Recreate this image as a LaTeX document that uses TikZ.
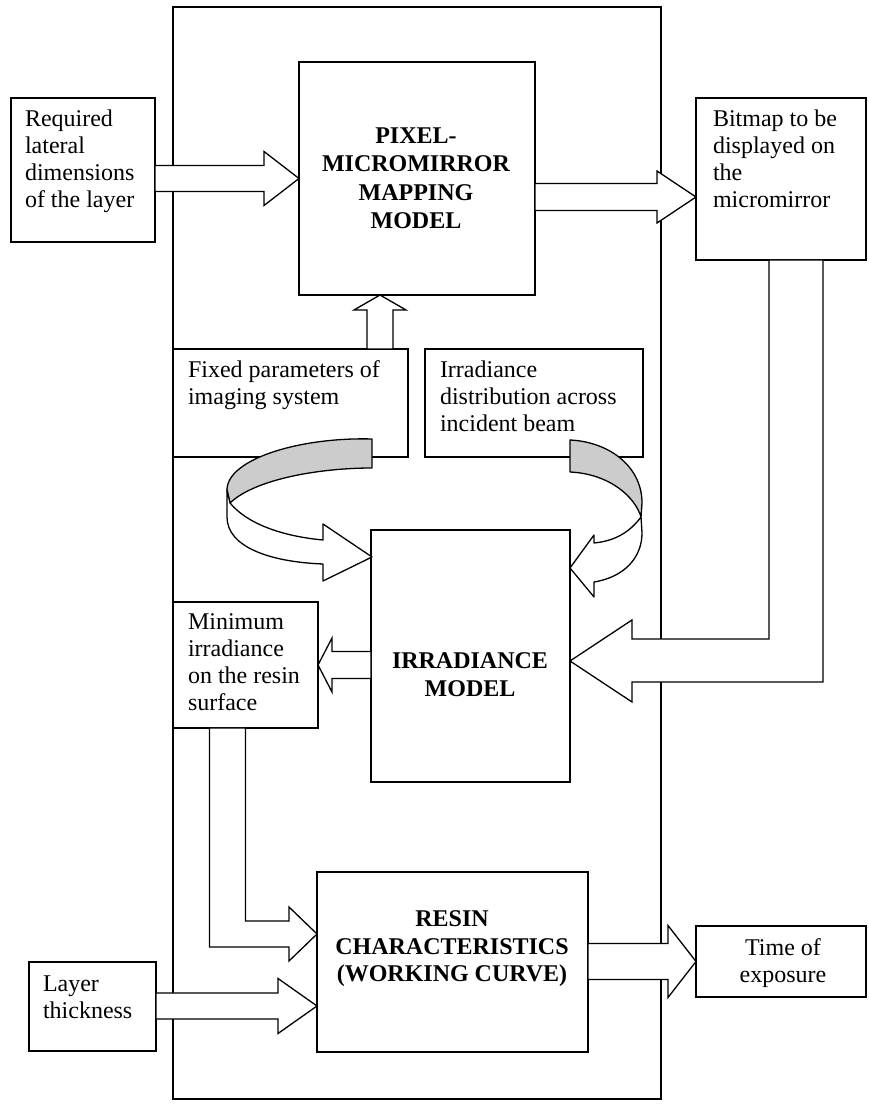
\documentclass[tikz,border=0pt]{standalone}
\usepackage{fontspec}
\setmainfont{Liberation Serif}
\usetikzlibrary{calc}

\tikzset{
  box/.style={draw=drawColor,line width=1.8pt,fill=fillColor,inner sep=0pt,outer sep=0pt,anchor=north west},
  blk/.style={draw=drawColor,line width=1.3pt,line join=miter,fill=fillColor},
  band/.style={draw=drawColor,line width=1.3pt,line join=round,fill=bandColor},
  note/.style={text=drawColor,anchor=base west,align=left,inner sep=0pt,outer sep=0pt,font=\fontsize{24}{27}\selectfont},
  title/.style={text=drawColor,anchor=base,align=center,inner sep=0pt,outer sep=0pt,font=\fontsize{24}{28.6}\selectfont\bfseries}
}

% horizontal block arrow: start node, tip, half shaft, half head, head length
\newcommand{\blockarrowh}[5]{%
  \path[blk] let \p1=(#1), \p2=(#2), \n1={sign(\x2-\x1)} in
    (\x1,\y2+#3) -- (\x2-\n1*#5,\y2+#3) -- (\x2-\n1*#5,\y2+#4) -- (\x2,\y2) --
    (\x2-\n1*#5,\y2-#4) -- (\x2-\n1*#5,\y2-#3) -- (\x1,\y2-#3) -- cycle;}

\begin{document}
\begin{tikzpicture}[x=1pt,y=1pt]
\definecolor{fillColor}{RGB}{255,255,255}
\definecolor{drawColor}{RGB}{0,0,0}
\definecolor{bandColor}{gray}{0.80}
\path[use as bounding box,fill=fillColor] (0,0) rectangle (869,1107);

% outer frame
\node[box,fill=none,minimum width=488,minimum height=1092] (frame) at (173,1100) {};

% boxes
\node[box,minimum width=144,minimum height=144] (req) at ( 11,1009) {};
\node[box,minimum width=236,minimum height=233] (pix) at (299,1045) {};
\node[box,minimum width=170,minimum height=162] (bmp) at (696,1009) {};
\node[box,minimum width=235,minimum height=108] (fix) at (173, 758) {};
\node[box,minimum width=218,minimum height=108] (irr) at (425, 758) {};
\node[box,minimum width=199,minimum height=252] (irm) at (371, 577) {};
\node[box,minimum width=145,minimum height=126] (min) at (173, 505) {};
\node[box,minimum width=271,minimum height=180] (res) at (317, 235) {};
\node[box,minimum width=170,minimum height= 71] (tim) at (696, 181) {};
\node[box,minimum width=127,minimum height= 89] (lay) at ( 29, 145) {};

% texts (anchored on the last line)
\node[note] (reqtext) at ( 25, 899) {Required\\lateral\\dimensions\\of the layer};
\node[note] (bmptext) at (713, 899) {Bitmap to be\\displayed on\\the\\micromirror};
\node[note] (fixtext) at (188, 702) {Fixed parameters of\\imaging system};
\node[note] (irrtext) at (440, 675) {Irradiance\\distribution across\\incident beam};
\node[note] (mintext) at (188, 396) {Minimum\\irradiance\\on the resin\\surface};
\node[note] (laytext) at ( 43,  88) {Layer\\thickness};
\node[note,anchor=base,align=center] (timtext) at (783, 124) {Time of\\exposure};
\node[title] (pixtext) at (416, 878) {PIXEL-\\MICROMIRROR\\MAPPING\\MODEL};
\node[title] (irmtext) at (470, 410) {IRRADIANCE\\MODEL};
\node[title,font=\fontsize{24}{27.5}\selectfont\bfseries] (restext) at (452, 125) {RESIN\\CHARACTERISTICS\\(WORKING CURVE)};

% straight block arrows
\blockarrowh{req.east}{pix.west}{13}{27}{35}
\blockarrowh{pix.east}{[yshift=-18]bmp.west}{13.5}{26}{39}
\blockarrowh{irm.west}{min.east}{13.5}{27}{14}
\blockarrowh{lay.east}{[yshift=-44]res.west}{13}{27.5}{39}
\blockarrowh{res.east}{tim.west}{18}{36}{28}

% fixed parameters up into the mapping model
\path[blk] let \p1=(fix.north), \p2=([xshift=-37]pix.south) in
  (\x2-13,\y1) -- (\x2-13,\y2-15) -- (\x2-26,\y2-15) -- (\x2,\y2) --
  (\x2+26,\y2-15) -- (\x2+13,\y2-15) -- (\x2+13,\y1) -- cycle;

% bitmap down and into the irradiance model
\path[blk] let \p1=([xshift=15]bmp.south), \p2=([yshift=-5]irm.east) in
  (\x1-27,\y1) -- (\x1-27,\y2+22) -- (\x2+62,\y2+22) -- (\x2+62,\y2+41) -- (\x2,\y2) --
  (\x2+62,\y2-41) -- (\x2+62,\y2-21) -- (\x1+27,\y2-21) -- (\x1+27,\y1) -- cycle;

% minimum irradiance down and into the resin
\path[blk] let \p1=([xshift=-18]min.south), \p2=([yshift=28]res.west) in
  (\x1+18,\y1) -- (\x1+18,\y2+13) -- (\x2-28,\y2+13) -- (\x2-28,\y2+27) -- (\x2,\y2) --
  (\x2-28,\y2-27) -- (\x2-28,\y2-13) -- (\x1-18,\y2-13) -- (\x1-18,\y1) -- cycle;

% curved arrows
\path[band] (372,668) .. controls (300,670) and (227,648) .. (227,617) -- (230,604)
  .. controls (255,628) and (320,639) .. (372,639) -- cycle;
\path[blk,line join=round] (230,604) .. controls (250,580) and (290,570) .. (323,567) --
  (323,583) -- (372,550) -- (323,526) -- (323,543)
  .. controls (270,545) and (227,560) .. (227,590) -- (227,617) -- cycle;

\path[band] (570,667) .. controls (610,665) and (642,640) .. (642,604) -- (641,590)
  .. controls (635,610) and (610,633) .. (570,635) -- cycle;
\path[blk,line join=round] (641,590) .. controls (630,575) and (615,566) .. (594,564) --
  (594,572) -- (570,539) -- (594,510) -- (594,525)
  .. controls (625,530) and (642,550) .. (642,574) -- cycle;
\end{tikzpicture}
\end{document}
